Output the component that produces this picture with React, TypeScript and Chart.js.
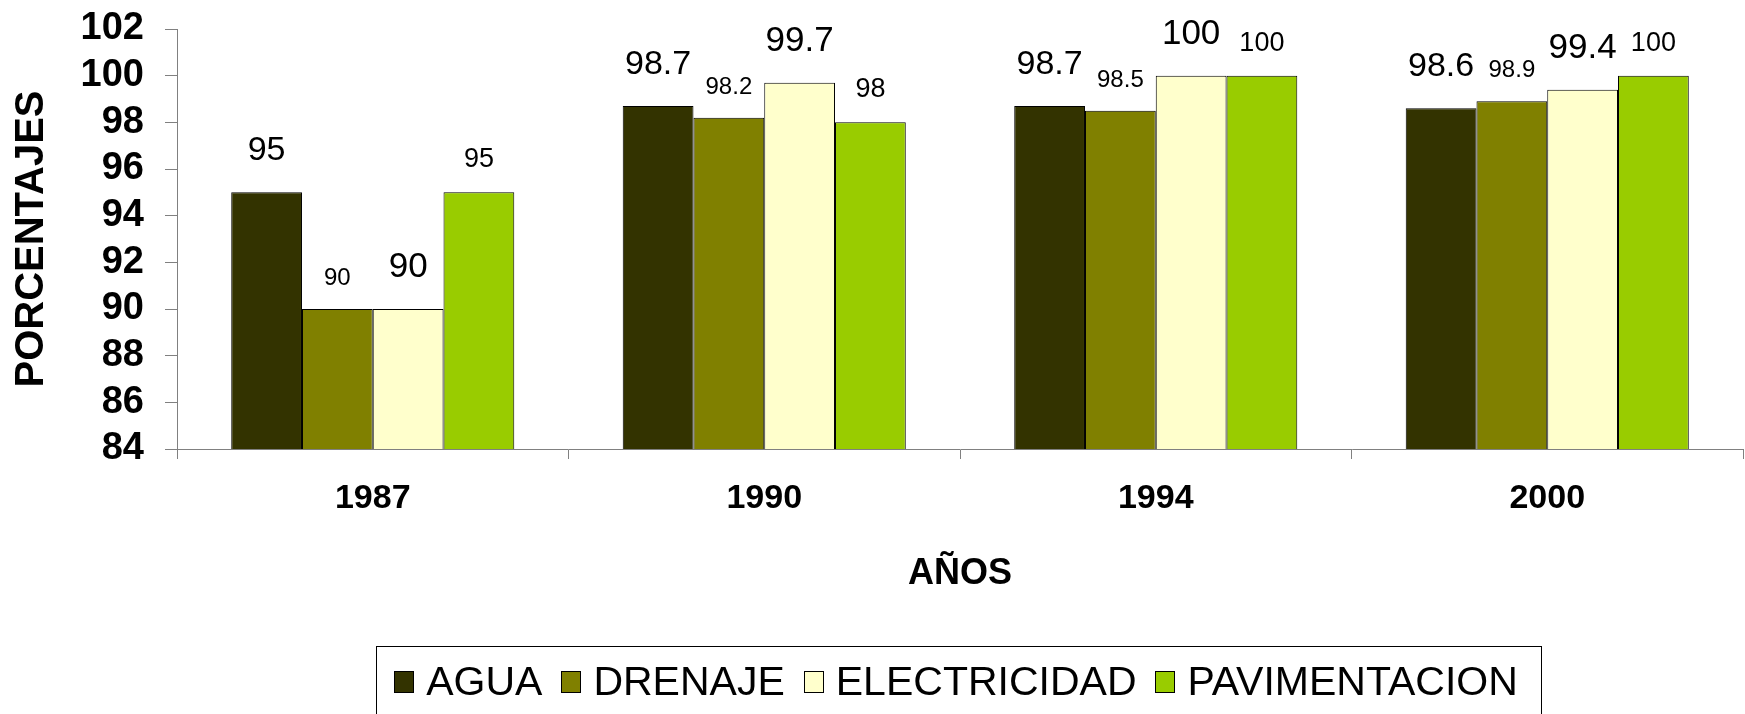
import { useEffect, useRef } from 'react';
import { Chart, registerables } from 'chart.js';

Chart.register(...registerables);

const FONT = '"Liberation Sans", Arial, Helvetica, sans-serif';

// ---- data ----
const categories = ['1987', '1990', '1994', '2000'];
const seriesNames = ['AGUA', 'DRENAJE', 'ELECTRICIDAD', 'PAVIMENTACION'];
const agua = [95, 98.7, 98.7, 98.6];
const drenaje = [90, 98.2, 98.5, 98.9];
const electricidad = [90, 99.7, 100, 99.4];
const pavimentacion = [95, 98, 100, 100];
const yTickValues = [84, 86, 88, 90, 92, 94, 96, 98, 100, 102];

// ---- styles ----
const seriesColors = ['#333300', '#808000', '#FFFFCC', '#99CC00'];
const labelFontSizes = [34, 24, 35, 27];
const labelGaps = [32, 24, 32, 25];

const valueLabelPlugin = {
  id: 'valueLabels',
  afterDatasetsDraw(chart: any) {
    const ctx = chart.ctx;
    chart.data.datasets.forEach((ds: any, i: number) => {
      const meta = chart.getDatasetMeta(i);
      ctx.save();
      ctx.font = `${labelFontSizes[i]}px ${FONT}`;
      ctx.fillStyle = '#000000';
      ctx.textAlign = 'center';
      ctx.textBaseline = 'alphabetic';
      meta.data.forEach((el: any, j: number) => {
        ctx.fillText(String(ds.data[j]), el.x, el.y - labelGaps[i]);
      });
      ctx.restore();
    });
  },
};

const boxedLegendPlugin = {
  id: 'boxedLegend',
  afterDraw(chart: any) {
    const ctx = chart.ctx;
    const items = chart.data.datasets.map((ds: any) => ({ text: ds.label, color: ds.backgroundColor }));
    ctx.save();
    ctx.font = `41px ${FONT}`;
    const sqW = 20;
    const sqH = 22;
    const gapText = 12;
    const gapItem = 19;
    const widths = items.map((it: any) => ctx.measureText(it.text).width);
    const total =
      widths.reduce((a: number, b: number) => a + b, 0) +
      items.length * (sqW + gapText) +
      (items.length - 1) * gapItem;
    const cx = (chart.chartArea.left + chart.chartArea.right) / 2 - 4;
    const top = chart.height - 68;
    const boxLeft = Math.round(cx - total / 2 - 18);
    const boxRight = Math.round(cx + total / 2 + 23);
    ctx.strokeStyle = '#000000';
    ctx.lineWidth = 1;
    ctx.strokeRect(boxLeft + 0.5, top + 0.5, boxRight - boxLeft, 200);
    const midY = top + 36;
    const baseline = top + 49;
    let x = cx - total / 2;
    items.forEach((it: any, i: number) => {
      const sx = Math.round(x);
      const sy = Math.round(midY - sqH / 2);
      ctx.fillStyle = it.color;
      ctx.fillRect(sx, sy, sqW, sqH);
      ctx.strokeStyle = '#000000';
      ctx.strokeRect(sx + 0.5, sy + 0.5, sqW - 1, sqH - 1);
      x += sqW + gapText;
      ctx.fillStyle = '#000000';
      ctx.textAlign = 'left';
      ctx.textBaseline = 'alphabetic';
      ctx.fillText(it.text, x, baseline);
      x += widths[i] + gapItem;
    });
    ctx.restore();
  },
};

export default function App() {
  const canvasRef = useRef<HTMLCanvasElement | null>(null);

  useEffect(() => {
    if (!canvasRef.current) return;
    Chart.defaults.font.family = FONT;
    const seriesValues = [agua, drenaje, electricidad, pavimentacion];
    const chart = new Chart(canvasRef.current, {
      type: 'bar',
      data: {
        labels: categories,
        datasets: seriesNames.map((name, i) => ({
          label: name,
          data: seriesValues[i],
          backgroundColor: seriesColors[i],
          borderColor: '#000000',
          borderWidth: 1,
          barPercentage: 1,
          categoryPercentage: 0.723,
        })),
      },
      plugins: [valueLabelPlugin, boxedLegendPlugin],
      options: {
        responsive: false,
        animation: false,
        devicePixelRatio: 1,
        events: [],
        layout: { padding: { top: 29, right: 2, bottom: 118, left: 0 } },
        plugins: {
          legend: { display: false },
          tooltip: { enabled: false },
          title: { display: false },
        },
        scales: {
          x: {
            type: 'category',
            offset: true,
            grid: {
              display: true,
              drawOnChartArea: false,
              drawTicks: true,
              tickLength: 10,
              color: '#808080',
              offset: true,
            },
            border: { display: true, color: '#808080', width: 1 },
            ticks: {
              color: '#000000',
              font: { family: FONT, size: 34, weight: 'bold' },
              padding: 19,
              autoSkip: false,
              maxRotation: 0,
            },
            title: {
              display: true,
              text: 'AÑOS',
              color: '#000000',
              font: { family: FONT, size: 36, weight: 'bold' },
              padding: { top: 0, bottom: 0 },
            },
            afterFit: (s: any) => {
              s.height = 147;
              s.paddingLeft = 0;
              s.paddingRight = 0;
            },
          },
          y: {
            type: 'linear',
            min: yTickValues[0],
            max: yTickValues[yTickValues.length - 1],
            afterBuildTicks: (s: any) => {
              s.ticks = yTickValues.map((v) => ({ value: v }));
            },
            grid: {
              display: true,
              drawOnChartArea: false,
              drawTicks: true,
              tickLength: 12,
              color: '#808080',
            },
            border: { display: true, color: '#808080', width: 1 },
            ticks: {
              color: '#000000',
              font: { family: FONT, size: 38, weight: 'bold' },
              padding: 21,
              autoSkip: false,
            },
            title: {
              display: true,
              text: 'PORCENTAJES',
              color: '#000000',
              font: { family: FONT, size: 40, weight: 'bold' },
              padding: { top: 8, bottom: 0 },
            },
            afterFit: (s: any) => {
              s.width = 177;
              s.paddingTop = 0;
              s.paddingBottom = 0;
            },
          },
        },
      },
    } as any);
    return () => {
      chart.destroy();
    };
  }, []);

  return (
    <div style={{ position: 'absolute', left: 0, top: 0, width: 1745, height: 714, background: '#ffffff' }}>
      <canvas ref={canvasRef} width={1745} height={714} style={{ display: 'block' }} />
    </div>
  );
}
